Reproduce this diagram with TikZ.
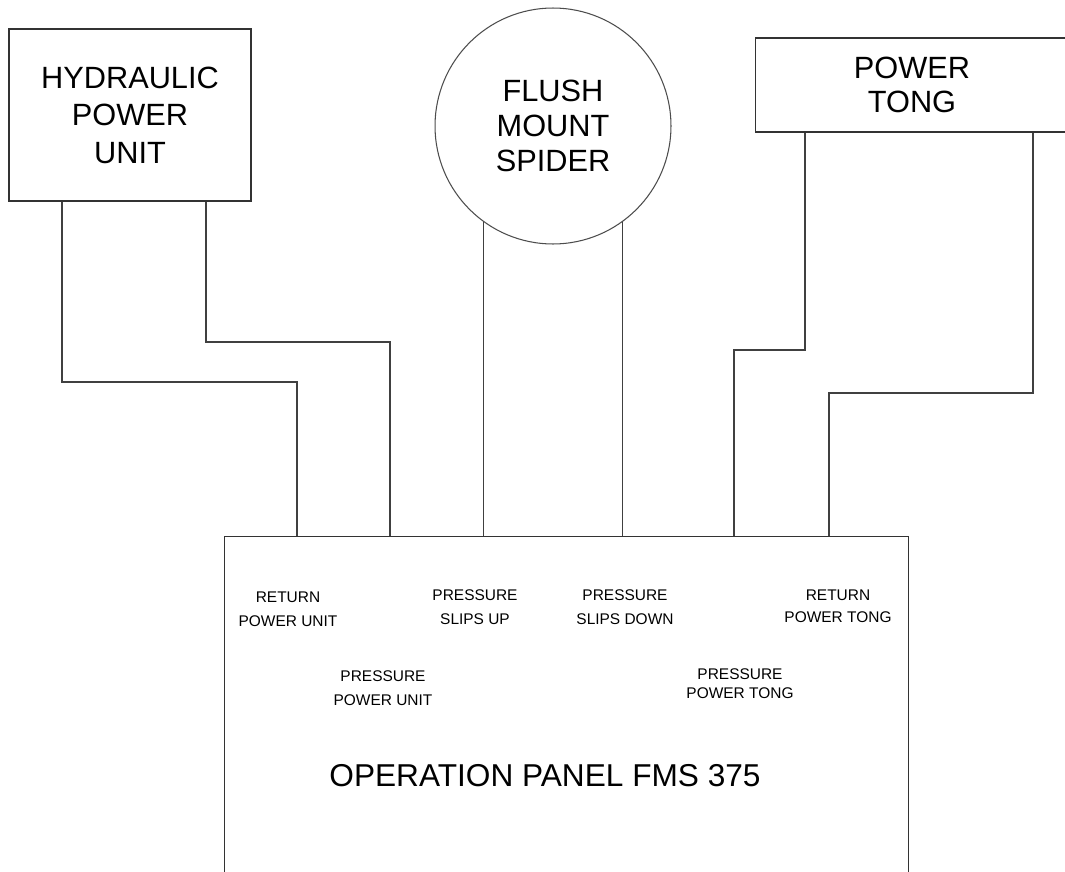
\documentclass[tikz,border=0pt]{standalone}
\usepackage{fontspec}
\setmainfont{Liberation Sans}
\begin{document}
\begin{tikzpicture}[x=0.02cm,y=-0.02cm,
  unit/.style={draw=black!80,line width=0.6pt,align=center,inner sep=0pt,font=\fontsize{17.5}{21.3}\selectfont},
  spd/.style={circle,draw=black!70,line width=0.6pt,minimum size=4.72cm,align=center,inner sep=0pt,font=\fontsize{17.5}{19.9}\selectfont},
  port/.style={align=center,inner sep=0pt,font=\fontsize{8.8}{13.6}\selectfont},
  pipe/.style={draw=black!75,line width=0.6pt}]
\useasboundingbox (0,0) rectangle (1065,872);
\clip (0,0) rectangle (1065,872);
% units
\node[unit,minimum width=4.84cm,minimum height=3.44cm] (hpu) at (130,115) {HYDRAULIC\\POWER\\UNIT};
\node[spd] (spider) at (553,126) {FLUSH\\MOUNT\\SPIDER};
\node[unit,minimum width=6.28cm,minimum height=1.88cm,font=\fontsize{17.5}{19.3}\selectfont] (tong) at (912,85) {POWER\\TONG};
% panel
\node[unit,minimum width=13.7cm,minimum height=8cm] (panel) at (566.5,736) {};
\node[inner sep=0pt,font=\fontsize{18}{21}\selectfont] (title) at (545,776) {OPERATION PANEL FMS 375};
\node[port] (rpu) at (288,609) {RETURN\\POWER UNIT};
\node[port] (psu) at (475,607) {PRESSURE\\SLIPS UP};
\node[port] (psd) at (625,607) {PRESSURE\\SLIPS DOWN};
\node[port] (ppu) at (383,688) {PRESSURE\\POWER UNIT};
\node[port] (rpt) at (838,606) {RETURN\\[-1.1pt]POWER TONG};
\node[port] (ppt) at (740,684) {PRESSURE\\[-2.8pt]POWER TONG};
% hoses
\draw[pipe] (hpu.south -| 62,0) |- (297,382) -- (panel.north -| 297,0);
\draw[pipe] (hpu.south -| 206,0) |- (390,342) -- (panel.north -| 390,0);
\draw[pipe] (spider.-126) -- (spider.-126 |- panel.north);
\draw[pipe] (spider.-54) -- (spider.-54 |- panel.north);
\draw[pipe] (tong.south -| 805,0) |- (734,350) -- (panel.north -| 734,0);
\draw[pipe] (tong.south -| 1033,0) |- (829,393) -- (panel.north -| 829,0);
\end{tikzpicture}
\end{document}
